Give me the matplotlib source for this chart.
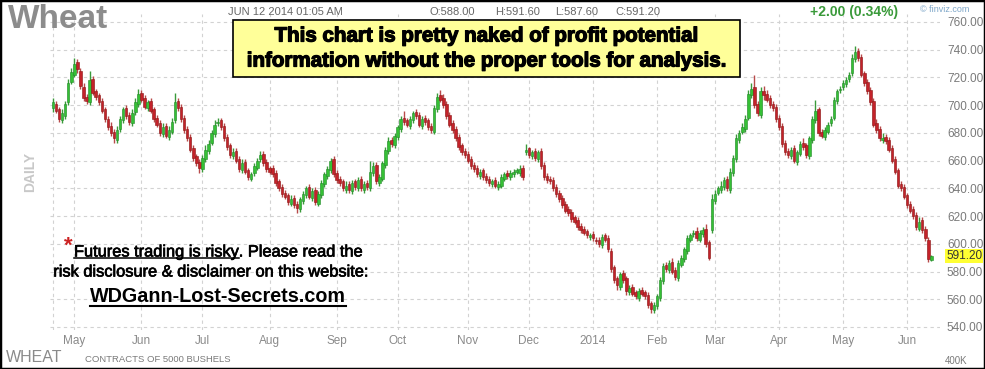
import matplotlib
matplotlib.use("Agg")
import matplotlib.pyplot as plt
import matplotlib.patheffects as pe
import numpy as np
import pandas as pd
from matplotlib.patches import Rectangle
from matplotlib.lines import Line2D
from matplotlib.transforms import blended_transform_factory

plt.rcParams['font.family'] = ['Liberation Sans', 'DejaVu Sans']

W, H = 985, 369

# exchange holidays in the window
holidays = ["2013-05-27", "2013-07-04", "2013-09-02", "2013-11-28", "2013-12-25",
            "2014-01-01", "2014-01-20", "2014-02-17", "2014-04-18", "2014-05-26"]
dates = pd.bdate_range("2013-04-22", "2014-06-12", freq="C", holidays=holidays)

# daily wheat OHLC
opens = [
    698, 701, 697, 689, 692, 702, 717, 722, 731, 725,
    713, 706, 702, 719, 710, 707, 703, 697, 690, 685,
    681, 675, 683, 689, 698, 693, 687, 695, 701, 709,
    705, 698, 703, 697, 691, 687, 679, 685, 677, 681,
    689, 703, 699, 691, 683, 677, 669, 663, 659, 654,
    661, 667, 673, 679, 687, 689, 685, 677, 671, 663,
    667, 661, 653, 659, 653, 647, 651, 655, 661, 665,
    659, 655, 655, 651, 645, 641, 637, 635, 629, 633, 629,
    625, 631, 635, 641, 633, 639, 629, 635, 643, 649,
    653, 661, 651, 647, 645, 639, 643, 638, 645, 640,
    647, 639, 644, 640, 651, 657, 644, 647, 657, 667,
    675, 671, 677, 683, 691, 689, 685, 689, 695, 693,
    685, 691, 689, 685, 681, 697, 707, 705, 701, 693,
    687, 683, 677, 671, 667, 665, 661, 657, 655, 649,
    653, 649, 647, 643, 646, 641, 642, 647, 651, 648,
    650, 652, 651, 655, 666, 669, 663, 667, 661, 667, 657,
    649, 647, 646, 641, 637, 633, 629, 625, 623, 619,
    617, 613, 611, 609, 605, 607, 603, 603, 599, 606,
    604, 595, 583, 575, 569, 579, 575, 565, 569, 565,
    561, 567, 565, 563, 557, 552, 555, 561, 573, 585,
    581, 587, 581, 575, 585, 589, 595, 603, 607, 609,
    603, 607, 611, 601, 610, 631, 637, 639, 641, 647,
    639, 651, 661, 675, 681, 683, 691, 707, 713, 701,
    693, 710, 708, 705, 701, 699, 691, 685, 673, 667, 663,
    669, 659, 665, 673, 671, 663, 675, 689, 697, 681,
    677, 681, 687, 691, 703, 711, 713, 715, 719, 723,
    733, 739, 735, 723, 717, 711, 703, 687, 683, 675,
    677, 675, 669, 661, 653, 643, 641, 635, 629, 625,
    621, 611, 617, 611, 603, 588.0,
]
highs = [
    705, 703, 699, 697, 703, 719, 727, 734, 733, 727,
    716, 708, 725, 721, 712, 709, 705, 699, 692, 688,
    683, 685, 692, 699, 700, 695, 697, 705, 712, 711,
    707, 704, 705, 699, 693, 689, 687, 687, 685, 691,
    709, 705, 701, 693, 685, 679, 671, 665, 661, 664,
    671, 675, 682, 689, 691, 691, 687, 679, 673, 669,
    669, 663, 661, 661, 655, 652, 658, 662, 667, 667,
    661, 656, 657, 653, 647, 643, 639, 637, 635, 635, 631,
    634, 638, 642, 643, 640, 641, 638, 646, 652, 656,
    662, 663, 653, 649, 647, 645, 645, 646, 647, 648,
    649, 645, 646, 660, 659, 659, 650, 660, 670, 677,
    677, 680, 686, 692, 696, 691, 692, 696, 697, 695,
    692, 693, 691, 687, 700, 709, 711, 708, 703, 695,
    689, 685, 679, 673, 669, 667, 663, 659, 657, 654,
    655, 651, 649, 647, 648, 645, 650, 652, 653, 653,
    654, 655, 657, 657, 672, 670, 668, 669, 668, 669, 659,
    651, 649, 648, 643, 639, 635, 631, 627, 625, 621,
    619, 615, 613, 611, 608, 609, 605, 605, 607, 608,
    606, 597, 585, 577, 580, 581, 577, 570, 571, 567,
    568, 569, 567, 565, 559, 558, 564, 576, 586, 587,
    588, 590, 583, 588, 592, 598, 606, 608, 610, 612,
    610, 612, 614, 603, 636, 639, 642, 645, 648, 649,
    655, 664, 679, 682, 687, 693, 711, 716, 722, 703,
    713, 714, 711, 707, 703, 701, 693, 687, 675, 669, 670,
    671, 668, 674, 676, 673, 678, 692, 704, 699, 683,
    684, 688, 692, 706, 712, 714, 718, 720, 724, 737,
    743, 741, 737, 725, 719, 713, 705, 690, 685, 680,
    679, 677, 671, 663, 655, 645, 643, 637, 631, 627,
    623, 619, 619, 613, 605, 591.6,
]
lows = [
    695, 694, 688, 687, 690, 700, 715, 720, 723, 712,
    703, 701, 700, 707, 704, 700, 694, 688, 682, 678,
    673, 673, 681, 687, 690, 686, 685, 693, 699, 702,
    697, 696, 694, 688, 684, 678, 677, 676, 675, 679,
    687, 696, 688, 680, 674, 666, 660, 656, 651, 652,
    659, 665, 671, 677, 685, 682, 674, 668, 662, 661,
    658, 652, 651, 650, 646, 645, 649, 653, 659, 656,
    652, 650, 648, 642, 638, 634, 632, 628, 627, 626, 622,
    623, 629, 633, 632, 631, 628, 627, 633, 641, 647,
    651, 648, 644, 642, 638, 637, 637, 636, 639, 638,
    638, 637, 639, 638, 649, 643, 642, 645, 655, 665,
    670, 669, 675, 681, 686, 684, 683, 687, 690, 684,
    683, 686, 682, 680, 679, 695, 702, 698, 690, 684,
    680, 674, 668, 664, 662, 658, 654, 652, 648, 647,
    646, 644, 642, 641, 640, 639, 640, 645, 647, 646,
    648, 650, 649, 646, 664, 662, 661, 660, 659, 654, 646,
    644, 643, 638, 634, 630, 626, 622, 620, 616, 614,
    610, 608, 606, 604, 603, 602, 600, 598, 597, 601,
    594, 580, 572, 567, 567, 572, 563, 563, 562, 560,
    559, 562, 560, 554, 550, 550, 553, 559, 571, 580,
    579, 578, 574, 573, 583, 587, 593, 601, 605, 602,
    601, 605, 598, 588, 608, 629, 635, 637, 639, 638,
    637, 649, 659, 673, 679, 681, 689, 705, 698, 692,
    691, 704, 702, 698, 696, 688, 682, 670, 664, 662, 661,
    658, 657, 663, 668, 662, 661, 673, 687, 678, 676,
    675, 679, 685, 689, 701, 709, 711, 713, 717, 721,
    731, 732, 720, 714, 708, 700, 684, 680, 674, 673,
    672, 666, 658, 650, 640, 638, 632, 626, 622, 618,
    610, 609, 608, 602, 587, 587.6,
]
closes = [
    702, 696, 690, 694, 701, 716, 724, 730, 726, 714,
    705, 703, 718, 709, 706, 702, 696, 690, 684, 680,
    676, 682, 690, 697, 692, 688, 694, 702, 708, 704,
    699, 702, 696, 690, 686, 680, 684, 678, 682, 688,
    702, 698, 690, 682, 676, 668, 662, 658, 655, 662,
    668, 672, 680, 686, 688, 684, 676, 670, 664, 666,
    660, 654, 658, 652, 648, 650, 656, 660, 664, 658,
    654, 652, 650, 644, 640, 636, 634, 630, 632, 628, 626,
    632, 636, 640, 634, 638, 630, 636, 644, 650, 654,
    660, 650, 646, 644, 640, 642, 639, 644, 641, 646,
    640, 643, 641, 652, 656, 645, 648, 658, 668, 674,
    672, 678, 684, 690, 688, 686, 690, 694, 692, 686,
    690, 688, 684, 682, 698, 706, 704, 700, 692, 686,
    682, 676, 670, 666, 664, 660, 656, 654, 650, 652,
    648, 646, 644, 645, 642, 643, 648, 650, 649, 651,
    652, 653, 654, 648, 668, 664, 666, 662, 666, 656, 648,
    646, 645, 640, 636, 632, 628, 624, 622, 618, 616,
    612, 610, 608, 606, 606, 604, 602, 600, 605, 603,
    596, 582, 574, 570, 578, 574, 566, 568, 564, 562,
    566, 564, 562, 556, 553, 556, 562, 574, 584, 582,
    586, 580, 576, 586, 590, 596, 604, 606, 608, 604,
    608, 610, 600, 590, 632, 636, 640, 642, 646, 640,
    652, 662, 676, 680, 684, 690, 708, 712, 700, 694,
    710, 707, 704, 700, 698, 690, 684, 672, 666, 664, 668,
    660, 666, 672, 670, 664, 676, 690, 696, 680, 678,
    682, 686, 690, 704, 710, 712, 716, 718, 722, 734,
    738, 734, 722, 716, 710, 702, 686, 682, 676, 676,
    674, 668, 660, 652, 642, 640, 634, 628, 624, 620,
    612, 616, 610, 604, 589.2, 591.2,
]

price_ticks = list(range(540, 761, 20))

o = np.array(opens, float)
h = np.array(highs, float)
l = np.array(lows, float)
c = np.array(closes, float)
idx = np.arange(len(dates))
up = c >= o

fig = plt.figure(figsize=(W / 100, H / 100), dpi=100)


def fx(px):
    return px / W


def fy(py):
    return 1 - py / H


# pixel layout: first bar at x=53, 3.05 px per session, 760 at y=22, 540 at y=327
ax = fig.add_axes([fx(50), fy(330), fx(940) - fx(50), fy(14) - fy(330)])
ax.set_xlim((50 - 53) / 3.05, (940 - 53) / 3.05)
ppu = 305 / 220.0
ax.set_ylim(760 - (330 - 22) / ppu, 760 + (22 - 14) / ppu)

for s in ax.spines.values():
    s.set_visible(False)

# month starts
month = dates.to_period("M")
first = np.r_[False, month[1:] != month[:-1]]
mpos = idx[first]
mlab = ["2014" if d.month == 1 else d.strftime("%b") for d in dates[first]]
ax.set_xticks(mpos)
ax.set_xticklabels(mlab)
ax.set_xticks([0], minor=True)
ax.tick_params(axis="x", which="both", length=0, pad=3.5, labelsize=8.5, labelcolor="#8a8a8a")

ax.yaxis.tick_right()
ax.set_yticks(price_ticks)
ax.set_yticklabels([f"{v:.2f}" for v in price_ticks])
ax.tick_params(axis="y", length=0, pad=5, labelsize=8.5, labelcolor="#7a7a7a")

ax.grid(True, which="both", linestyle=(0, (3, 3)), color="#d2d2d2", linewidth=0.8)
ax.set_axisbelow(True)

# candles
ax.vlines(idx, l, h, colors=np.where(up, "#3a9a3a", "#b84a4a"), linewidth=1.0, zorder=2)
body = np.maximum(np.abs(c - o), 0.8)
ax.bar(idx, body, bottom=np.minimum(o, c), width=0.8,
       color=np.where(up, "#35c035", "#c4222a"),
       edgecolor=np.where(up, "#23892a", "#8a1414"), linewidth=0.4, zorder=3)

# last price tag
tr = blended_transform_factory(ax.transAxes, ax.transData)
ax.text(1 + 6 / 890, c[-1], f"{c[-1]:.2f}", transform=tr, ha="left", va="center",
        fontsize=8.5, color="#333333",
        bbox=dict(facecolor="#ffff33", edgecolor="none", pad=0.8))

# header
fig.text(fx(8), fy(20), "Wheat", fontsize=24, fontweight="bold", color="#8c8c8c",
         ha="left", va="center")
fig.text(fx(228), fy(12), "JUN 12 2014 01:05 AM", fontsize=8, color="#666666",
         ha="left", va="center")
for xp, s in [(430, f"O:{o[-1]:.2f}"), (495, f"H:{h[-1]:.2f}"),
              (555, f"L:{l[-1]:.2f}"), (615, f"C:{c[-1]:.2f}")]:
    fig.text(fx(xp), fy(12), s, fontsize=8, color="#666666", ha="left", va="center")
chg = c[-1] - c[-2]
fig.text(fx(810), fy(12), f"+{chg:.2f} ({chg / c[-2] * 100:.2f}%)", fontsize=10,
         fontweight="bold", color="#3a9a3a", ha="left", va="center")
fig.text(fx(920), fy(10), "\u00a9 finviz.com", fontsize=6.5, color="#7fa7c9",
         ha="left", va="center")

# yellow note
heavy = [pe.withStroke(linewidth=0.9, foreground="black")]
fig.add_artist(Rectangle((fx(233), fy(77)), fx(740) - fx(233), fy(20) - fy(77),
                         transform=fig.transFigure, facecolor="#ffff99",
                         edgecolor="black", linewidth=1.2, zorder=5))
fig.text(fx(486), fy(36), "This chart is pretty naked of profit potential",
         fontsize=14.8, fontweight="bold", ha="center", va="center", zorder=6,
         path_effects=heavy)
fig.text(fx(486), fy(61), "information without the proper tools for analysis.",
         fontsize=14.8, fontweight="bold", ha="center", va="center", zorder=6,
         path_effects=heavy)

# left labels
fig.text(fx(30), fy(172), "DAILY", rotation=90, fontsize=10, fontweight="bold",
         color="#c8c8c8", ha="center", va="center")
fig.text(fx(6), fy(357), "WHEAT", fontsize=11.5, color="#8a8a8a", ha="left", va="center")
fig.text(fx(85), fy(360), "CONTRACTS OF 5000 BUSHELS", fontsize=6.8, color="#7a7a7a",
         ha="left", va="center")
fig.text(fx(945), fy(361), "400K", fontsize=7, color="#7a7a7a", ha="left", va="center")

# disclaimer block
mid = [pe.withStroke(linewidth=0.5, foreground="black")]
fig.text(fx(64), fy(246), "*", fontsize=16, fontweight="bold", color="#cc2222",
         ha="left", va="center")
t1 = fig.text(fx(74), fy(252), "Futures trading is risky", fontsize=11.8,
              ha="left", va="center", path_effects=mid)
fig.text(fx(211), fy(272), "risk disclosure & disclaimer on this website:", fontsize=11.8,
         ha="center", va="center", path_effects=mid)
t3 = fig.text(fx(218), fy(297), "WDGann-Lost-Secrets.com", fontsize=14.2, fontweight="bold",
              ha="center", va="center")

fig.canvas.draw()
rend = fig.canvas.get_renderer()
inv = fig.transFigure.inverted()


def underline(t, lw, off):
    bb = t.get_window_extent(rend)
    (x0, y0), (x1, _) = inv.transform([[bb.x0, bb.y0 + off], [bb.x1, bb.y0 + off]])
    fig.add_artist(Line2D([x0, x1], [y0, y0], transform=fig.transFigure,
                          color="black", linewidth=lw))
    return inv.transform([[bb.x1, bb.y0]])[0][0]


xe = underline(t1, 1.1, 2)
fig.text(xe, fy(252), ". Please read the", fontsize=11.8, ha="left", va="center",
         path_effects=mid)
underline(t3, 1.5, 1)

fig.add_artist(Rectangle((0, 0), 1, 1, transform=fig.transFigure, fill=False,
                         edgecolor="black", linewidth=2.5))

fig.savefig("out.png", dpi=100)
